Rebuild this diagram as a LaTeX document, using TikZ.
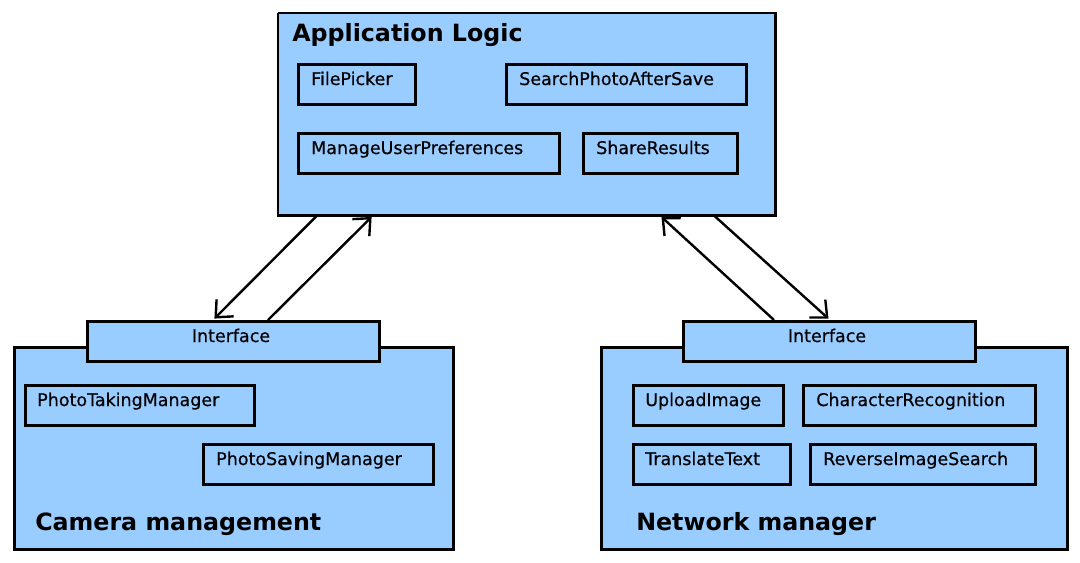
\documentclass[tikz,border=0pt]{standalone}
\usepackage{fontspec}
\setmainfont{DejaVu Sans}
\newfontfamily\lblfont[BoldFont=DejaVu Sans,BoldFeatures={FakeBold=0.5}]{DejaVu Sans}
\usetikzlibrary{arrows.meta,calc}
\definecolor{pkgblue}{HTML}{99CCFF}
\begin{document}
\begin{tikzpicture}[x=0.75pt,y=-0.75pt,
  outerbox/.style={draw=black,fill=pkgblue,line width=2.2pt,anchor=north west,inner sep=0pt},
  innerbox/.style={draw=black,fill=pkgblue,line width=2pt,anchor=north west,inner sep=0pt,minimum height=30pt},
  lbl/.style={anchor=base west,inner sep=0pt,font=\fontsize{13.1}{15}\lblfont\bfseries},
  ttl/.style={anchor=base west,inner sep=0pt,font=\fontsize{17.8}{20}\selectfont\bfseries},
  conn/.style={line width=1.8pt,shorten >=1.5pt,-{Straight Barb[length=10pt,width=18pt,line width=1.8pt]}}]
\useasboundingbox (0,0) rectangle (1080,562);
% Application Logic
\node[draw=none,fill=pkgblue,anchor=north west,inner sep=0pt,minimum width=372.75pt,minimum height=151.5pt] (app) at (278,13) {};
\draw[line width=2.2pt] (690,13) -- (app.north east) -- (app.south east) -- (app.south west) -- (app.north west);
\draw[line width=1.2pt] (app.north west) -- (690,13);
\node[ttl] (apptitle) at (292,41) {Application Logic};
\node[innerbox,minimum width=87.75pt] (fp) at (297,63) {};
\node[lbl] (fpt) at (311,85) {FilePicker};
\node[innerbox,minimum width=180pt] (sp) at (505,63) {};
\node[lbl] (spt) at (519,85) {SearchPhotoAfterSave};
\node[innerbox,minimum width=195.75pt] (mu) at (297,132) {};
\node[lbl] (mut) at (311,154) {ManageUserPreferences};
\node[innerbox,minimum width=115.5pt] (sr) at (582,132) {};
\node[lbl] (srt) at (596,154) {ShareResults};
% Camera management
\node[outerbox,minimum width=329.25pt,minimum height=151.5pt] (cam) at (13,346) {};
\node[innerbox,minimum width=219pt] (cif) at (86,320) {};
\node[lbl,anchor=base] (cift) at (231,342) {Interface};
\node[innerbox,minimum width=171.75pt] (ptm) at (24,384) {};
\node[lbl] (ptmt) at (37,406) {PhotoTakingManager};
\node[innerbox,minimum width=172.5pt] (psm) at (202,443) {};
\node[lbl] (psmt) at (216,465) {PhotoSavingManager};
\node[ttl] (camtitle) at (35,530) {Camera management};
% Network manager
\node[outerbox,minimum width=349.5pt,minimum height=151.5pt] (net) at (600,346) {};
\node[innerbox,minimum width=219pt] (nif) at (682,320) {};
\node[lbl,anchor=base] (nift) at (827,342) {Interface};
\node[innerbox,minimum width=112.5pt] (ui) at (632,384) {};
\node[lbl] (uit) at (645,406) {UploadImage};
\node[innerbox,minimum width=174pt] (cr) at (802,384) {};
\node[lbl] (crt) at (816,406) {CharacterRecognition};
\node[innerbox,minimum width=117.75pt] (tt) at (632,443) {};
\node[lbl] (ttt) at (645,465) {TranslateText};
\node[innerbox,minimum width=168.75pt] (ri) at (809,443) {};
\node[lbl] (rit) at (823,465) {ReverseImageSearch};
\node[ttl] (nettitle) at (636,530) {Network manager};
% connectors
\coordinate (a1) at ($(app.south west)+(39,0)$);
\coordinate (a2) at ($(app.south west)+(95,0)$);
\coordinate (a3) at ($(app.south west)+(382,0)$);
\coordinate (a4) at ($(app.south west)+(436,0)$);
\coordinate (c1) at ($(cif.north west)+(127,0)$);
\coordinate (c2) at ($(cif.north west)+(182,0)$);
\coordinate (n1) at ($(nif.north west)+(92,0)$);
\coordinate (n2) at ($(nif.north west)+(148,0)$);
\draw[conn] (a1) -- (c1);
\draw[conn] (c2) -- (a2);
\draw[conn] (n1) -- (a3);
\draw[conn] (a4) -- (n2);
\end{tikzpicture}
\end{document}
